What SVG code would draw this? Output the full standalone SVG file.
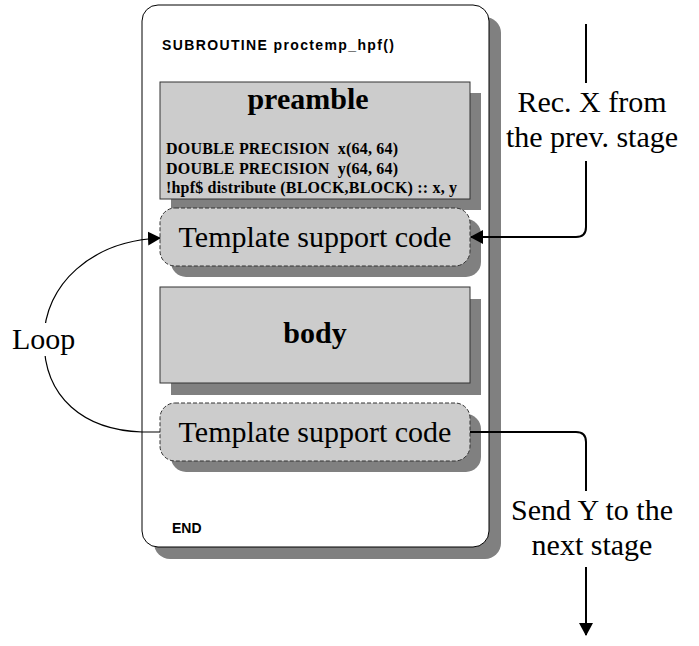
<svg xmlns="http://www.w3.org/2000/svg" width="699" height="646" viewBox="0 0 699 646">
  <style>
    .shadow { fill: #808080; }
    .block { fill: #cccccc; stroke: #333333; stroke-width: 1; }
    .tmpl { fill: #cccccc; stroke: #333333; stroke-width: 1; stroke-dasharray: 4 2; }
    .mono { font-family: "Liberation Sans", Arial, sans-serif; font-weight: bold; font-size: 14px; fill: #000; }
    .serif { font-family: "Liberation Serif", "Times New Roman", serif; fill: #000; }
    .big { font-size: 30px; }
    .head { font-size: 30px; font-weight: bold; }
    .code { font-size: 16px; font-weight: bold; white-space: pre; }
    .wire { fill: none; stroke: #000; stroke-width: 2; }
    .loop { fill: none; stroke: #000; stroke-width: 1.2; }
  </style>
  <defs>
    <marker id="arrow" markerUnits="userSpaceOnUse" markerWidth="13" markerHeight="14" refX="12" refY="7" orient="auto">
      <path d="M0,0 L13,7 L0,14 z" fill="#000"/>
    </marker>
  </defs>

  <rect width="699" height="646" fill="#ffffff"/>

  <!-- subroutine frame -->
  <g id="subroutine">
    <rect class="shadow" x="154" y="17" width="347" height="542" rx="16"/>
    <rect x="142" y="5" width="347" height="542" rx="16" fill="#ffffff" stroke="#000" stroke-width="1"/>
    <text class="mono" x="162" y="50" textLength="232">SUBROUTINE proctemp_hpf()</text>
    <text class="mono" x="172" y="533">END</text>
  </g>

  <!-- preamble block -->
  <g id="preamble">
    <rect class="shadow" x="171" y="93" width="310" height="117"/>
    <rect class="block" x="160" y="82" width="310" height="117"/>
    <text class="serif head" x="308" y="109" text-anchor="middle">preamble</text>
    <text class="serif code" x="166" y="154" textLength="232" xml:space="preserve">DOUBLE PRECISION  x(64, 64)</text>
    <text class="serif code" x="166" y="174" textLength="232" xml:space="preserve">DOUBLE PRECISION  y(64, 64)</text>
    <text class="serif code" x="166" y="193" textLength="291">!hpf$ distribute (BLOCK,BLOCK) :: x, y</text>
  </g>

  <!-- template support code (entry) -->
  <g id="template-in">
    <rect class="shadow" x="171" y="219" width="310" height="58" rx="15"/>
    <rect class="tmpl" x="160" y="208" width="310" height="58" rx="15"/>
    <text class="serif big" x="315" y="247" text-anchor="middle">Template support code</text>
  </g>

  <!-- body block -->
  <g id="body">
    <rect class="shadow" x="171" y="299" width="310" height="96"/>
    <rect class="block" x="160" y="287" width="310" height="96"/>
    <text class="serif head" x="315" y="343" text-anchor="middle">body</text>
  </g>

  <!-- template support code (exit) -->
  <g id="template-out">
    <rect class="shadow" x="171" y="414" width="310" height="58" rx="15"/>
    <rect class="tmpl" x="160" y="403" width="310" height="58" rx="15"/>
    <text class="serif big" x="315" y="442" text-anchor="middle">Template support code</text>
  </g>

  <!-- connectors -->
  <g id="connectors">
    <path class="loop" d="M160,432 L142,432 C84,430 44,398 44,340 C44,284 92,241 160,238" marker-end="url(#arrow)"/>
    <path class="wire" d="M586,24 V227 Q586,237 576,237 H471" marker-end="url(#arrow)"/>
    <path class="wire" d="M470,432 H576 Q586,432 586,442 V635" marker-end="url(#arrow)"/>
  </g>

  <!-- connector labels -->
  <g id="labels">
    <rect x="8" y="323" width="68" height="33" fill="#ffffff"/>
    <text class="serif big" x="12" y="349">Loop</text>
    <rect x="503" y="83" width="180" height="78" fill="#ffffff"/>
    <text class="serif big" x="592" y="112" text-anchor="middle">Rec. X from</text>
    <text class="serif big" x="592" y="147" text-anchor="middle">the prev. stage</text>
    <rect x="503" y="491" width="180" height="76" fill="#ffffff"/>
    <text class="serif big" x="592" y="520" text-anchor="middle">Send Y to the</text>
    <text class="serif big" x="592" y="555" text-anchor="middle">next stage</text>
  </g>
</svg>
